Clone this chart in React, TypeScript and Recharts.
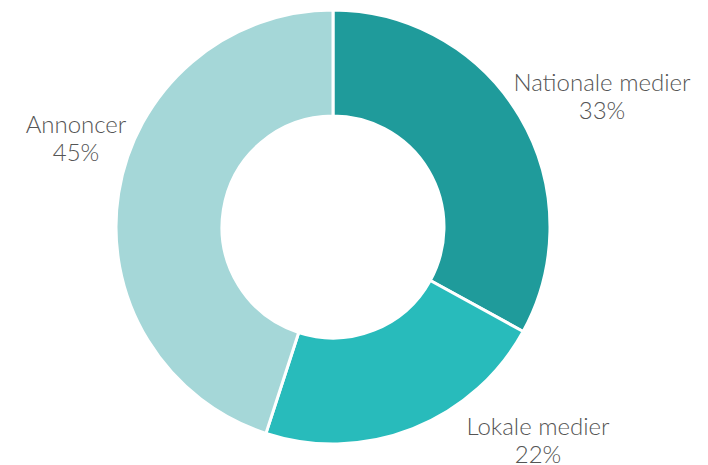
import { PieChart, Pie, Cell } from "recharts";

const names = ["Nationale medier", "Lokale medier", "Annoncer"];
const shares = [33, 22, 45];
const colors = ["#1f9b9b", "#28bbbb", "#a5d7d8"];

// label placement relative to the pie centre (label layout, not data)
const labelOffsets = [
  { dx: 269, dy: -136 },
  { dx: 205, dy: 208 },
  { dx: -257, dy: -94 },
];

const data = names.map((name, i) => ({ name, value: shares[i] }));

const renderLabel = (props: any) => {
  const { cx, cy, index, name, value } = props;
  const off = labelOffsets[index];
  const x = cx + off.dx;
  const y = cy + off.dy;
  return (
    <text
      x={x}
      y={y}
      textAnchor="middle"
      fill="#555"
      fontSize={24}
      fontWeight={300}
      fontFamily="Lato, 'Open Sans', sans-serif"
    >
      <tspan x={x} dy={0}>{name}</tspan>
      <tspan x={x} dy={28}>{value}%</tspan>
    </text>
  );
};

export default function App() {
  return (
    <div style={{ position: "absolute", left: 0, top: 0, background: "#fff" }}>
      <PieChart width={708} height={465} margin={{ top: 0, right: 0, bottom: 0, left: 0 }}>
        <Pie
          data={data}
          dataKey="value"
          nameKey="name"
          cx={333}
          cy={227}
          innerRadius={111}
          outerRadius={217}
          startAngle={90}
          endAngle={-270}
          stroke="#fff"
          strokeWidth={3}
          label={renderLabel}
          labelLine={false}
          isAnimationActive={false}
        >
          {data.map((d, i) => (
            <Cell key={d.name} fill={colors[i]} />
          ))}
        </Pie>
      </PieChart>
    </div>
  );
}
